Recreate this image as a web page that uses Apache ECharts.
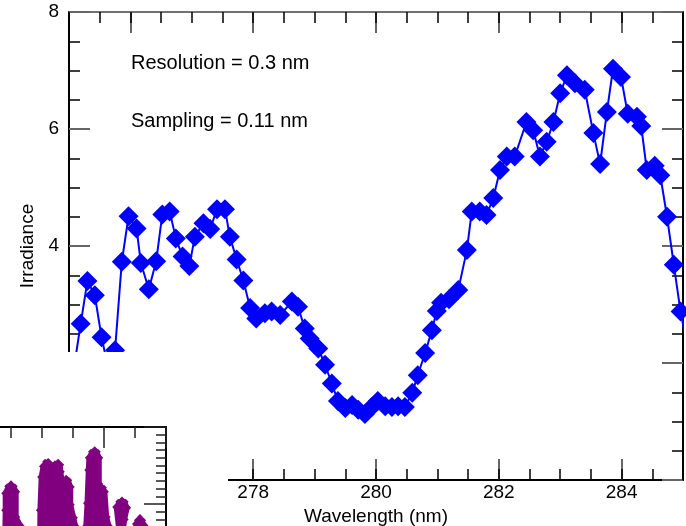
<!DOCTYPE html>
<html>
<head>
<meta charset="utf-8">
<script src="https://cdn.jsdelivr.net/npm/echarts@6/dist/echarts.min.js"></script>
<style>
  html, body { margin: 0; padding: 0; background: #fff; }
  #chart { width: 686px; height: 526px; }
</style>
</head>
<body>
<div id="chart"></div>
<script>
// Spectrum (nm) and irradiance samples
const wavelength = [275.08,275.19,275.30,275.42,275.53,275.64,275.75,275.86,275.97,276.10,276.17,276.30,276.42,276.52,276.64,276.74,276.85,276.96,277.05,277.19,277.30,277.41,277.54,277.62,277.73,277.84,277.95,278.05,278.19,278.30,278.44,278.63,278.73,278.84,278.92,279.06,279.17,279.28,279.38,279.50,279.61,279.71,279.82,279.93,280.03,280.15,280.26,280.36,280.47,280.59,280.68,280.80,280.91,280.99,281.06,281.19,281.34,281.48,281.56,281.69,281.80,281.91,282.02,282.13,282.26,282.45,282.56,282.67,282.78,282.89,283.00,283.11,283.24,283.40,283.54,283.65,283.76,283.86,283.99,284.10,284.25,284.32,284.41,284.54,284.63,284.74,284.85,284.96,285.08];
const irradiance = [1.91,2.67,3.40,3.16,2.44,1.91,2.22,3.73,4.51,4.30,3.71,3.26,3.74,4.54,4.59,4.13,3.82,3.66,4.16,4.39,4.29,4.63,4.63,4.16,3.77,3.41,2.94,2.76,2.85,2.88,2.82,3.05,2.96,2.59,2.42,2.25,1.97,1.65,1.35,1.23,1.28,1.20,1.13,1.25,1.35,1.26,1.25,1.26,1.25,1.49,1.79,2.17,2.56,2.89,3.03,3.09,3.25,3.93,4.59,4.59,4.53,4.82,5.30,5.53,5.53,6.12,5.98,5.53,5.78,6.12,6.61,6.92,6.78,6.67,5.93,5.40,6.29,7.03,6.89,6.26,6.21,6.05,5.30,5.37,5.21,4.50,3.68,2.88,2.22];

// Major wavelength ticks (labelled)
const xMajorTicks = [276, 278, 280, 282, 284];

// Notes printed inside the plot
const notes = ['Resolution = 0.3 nm', 'Sampling = 0.11 nm'];

// Inset: outlines of the densely sampled high-resolution bands
const insetBandA = [[282.37,0],[282.39,9.2],[282.39,11.4],[282.44,12.3],[282.50,12.7],[282.56,12.3],[282.60,11.6],[282.60,8.3],[282.68,7.1],[282.71,0]];
const insetBandB = [[282.94,0],[282.95,9.2],[282.97,13.5],[283.00,14.9],[283.05,15.5],[283.10,15.6],[283.15,15.2],[283.18,14.9],[283.21,15.3],[283.26,15.5],[283.31,15.1],[283.32,14.2],[283.34,13.1],[283.39,13.4],[283.44,13.1],[283.48,12.2],[283.48,9.9],[283.53,8.2],[283.56,7.1],[283.58,0]];
const insetBandC = [[283.68,0],[283.69,7.1],[283.71,10.1],[283.73,14.4],[283.74,16.0],[283.79,16.8],[283.85,17.1],[283.90,16.8],[283.94,16.0],[283.94,12.6],[284.00,12.1],[284.03,11.6],[284.06,8.3],[284.10,7.1],[284.11,0]];
const insetBandD = [[284.21,0],[284.23,6.0],[284.18,9.6],[284.23,10.3],[284.29,10.6],[284.35,10.3],[284.39,9.5],[284.35,8.0],[284.32,6.0],[284.32,0]];
const insetBandE = [[284.50,0],[284.50,7.4],[284.53,7.9],[284.58,8.3],[284.63,7.9],[284.68,7.1],[284.69,0]];
const insetBands = [insetBandA, insetBandB, insetBandC, insetBandD, insetBandE];

const FONT = '"Liberation Sans", Arial, Helvetica, sans-serif';
const chart = echarts.init(document.getElementById('chart'), null, { renderer: 'canvas' });

const frameLine = { show: true, onZero: false, lineStyle: { color: '#000', width: 2 } };
const majorTick = { show: true, inside: true, length: 21, lineStyle: { color: '#666', width: 2 } };
const minorTick = { show: true, inside: true, length: 11, lineStyle: { color: '#000', width: 1.5 } };
const noLine = { show: false, onZero: false };

const mainData = wavelength.map((w, i) => [w, irradiance[i]]);

const insetSeries = insetBands.map(band => ({
  type: 'line',
  xAxisIndex: 4,
  yAxisIndex: 2,
  data: band,
  z: 60,
  symbol: 'diamond',
  symbolSize: 6,
  showSymbol: true,
  itemStyle: { color: '#800080' },
  lineStyle: { color: '#800080', width: 3 },
  areaStyle: { color: '#800080', opacity: 1 },
  silent: true,
  animation: false
}));

chart.setOption({
  animation: false,
  backgroundColor: '#fff',
  textStyle: { fontFamily: FONT },
  grid: [
    { left: 69, top: 12, right: 3, bottom: 46, outerBoundsMode: 'none', containLabel: false },
    { left: -144, top: 427, width: 310, height: 154, outerBoundsMode: 'none', containLabel: false, z: 65 }
  ],
  xAxis: [
    { // bottom: major ticks and labels
      type: 'value', gridIndex: 0, position: 'bottom', min: 275, max: 285,
      axisLine: frameLine,
      axisTick: Object.assign({}, majorTick, { customValues: xMajorTicks }),
      axisLabel: { customValues: xMajorTicks, color: '#000', fontSize: 19, fontFamily: FONT, margin: 3 },
      splitLine: { show: false },
      name: 'Wavelength (nm)', nameLocation: 'middle', nameGap: 24,
      nameTextStyle: { color: '#000', fontSize: 19, fontFamily: FONT }
    },
    { // bottom: half-nm ticks
      type: 'value', gridIndex: 0, position: 'bottom', min: 275, max: 285, interval: 0.5,
      axisLine: noLine, axisTick: minorTick, axisLabel: { show: false }, splitLine: { show: false }
    },
    { // top frame: major ticks
      type: 'value', gridIndex: 0, position: 'top', min: 275, max: 285,
      axisLine: { show: true, onZero: false, lineStyle: { color: '#444', width: 1.5 } },
      axisTick: Object.assign({}, majorTick, { customValues: xMajorTicks }),
      axisLabel: { show: false }, splitLine: { show: false }
    },
    { // top frame: half-nm ticks
      type: 'value', gridIndex: 0, position: 'top', min: 275, max: 285, interval: 0.5,
      axisLine: noLine, axisTick: minorTick, axisLabel: { show: false }, splitLine: { show: false }
    },
    { // inset top frame
      type: 'value', gridIndex: 1, position: 'top', min: 280, max: 285, interval: 2, z: 70,
      axisLine: frameLine,
      axisTick: { show: true, inside: true, length: 21, lineStyle: { color: '#222', width: 1.5 } },
      minorTick: { show: true, splitNumber: 4, length: 11, lineStyle: { color: '#222', width: 1.5 } },
      axisLabel: { show: false }, splitLine: { show: false }
    }
  ],
  yAxis: [
    {
      type: 'value', gridIndex: 0, position: 'left', min: 0, max: 8, interval: 2,
      axisLine: frameLine, axisTick: majorTick,
      minorTick: Object.assign({ splitNumber: 4 }, minorTick),
      axisLabel: { color: '#000', fontSize: 19, fontFamily: FONT, margin: 10 },
      splitLine: { show: false }, minorSplitLine: { show: false },
      name: 'Irradiance', nameLocation: 'middle', nameGap: 29,
      nameTextStyle: { color: '#000', fontSize: 19, fontFamily: FONT }
    },
    {
      type: 'value', gridIndex: 0, position: 'right', min: 0, max: 8, interval: 2,
      axisLine: frameLine, axisTick: majorTick,
      minorTick: Object.assign({ splitNumber: 4 }, minorTick),
      axisLabel: { show: false }, splitLine: { show: false }
    },
    { // inset right frame
      type: 'value', gridIndex: 1, position: 'right', min: 0, max: 20, interval: 10, z: 70,
      axisLine: frameLine,
      axisTick: { show: true, inside: true, length: 22, lineStyle: { color: '#222', width: 1.5 } },
      minorTick: { show: true, splitNumber: 10, length: 10, lineStyle: { color: '#222', width: 1.5 } },
      axisLabel: { show: false }, splitLine: { show: false }
    }
  ],
  graphic: [
    { type: 'text', x: 131, y: 63, z: 5, style: { text: notes[0], font: '20px ' + FONT, fill: '#000', verticalAlign: 'middle' } },
    { type: 'text', x: 131, y: 121, z: 5, style: { text: notes[1], font: '20px ' + FONT, fill: '#000', verticalAlign: 'middle' } },
    // blank panel behind the inset
    { type: 'rect', x: 0, y: 352, z: 50, shape: { width: 228, height: 174 }, style: { fill: '#fff' }, silent: true }
  ],
  series: [
    {
      type: 'line',
      xAxisIndex: 0,
      yAxisIndex: 0,
      data: mainData,
      z: 2,
      symbol: 'diamond',
      symbolSize: 20,
      showSymbol: true,
      showAllSymbol: true,
      clip: true,
      itemStyle: { color: '#0000ff' },
      lineStyle: { color: '#0000ff', width: 2 },
      silent: true
    }
  ].concat(insetSeries)
});
</script>
</body>
</html>
